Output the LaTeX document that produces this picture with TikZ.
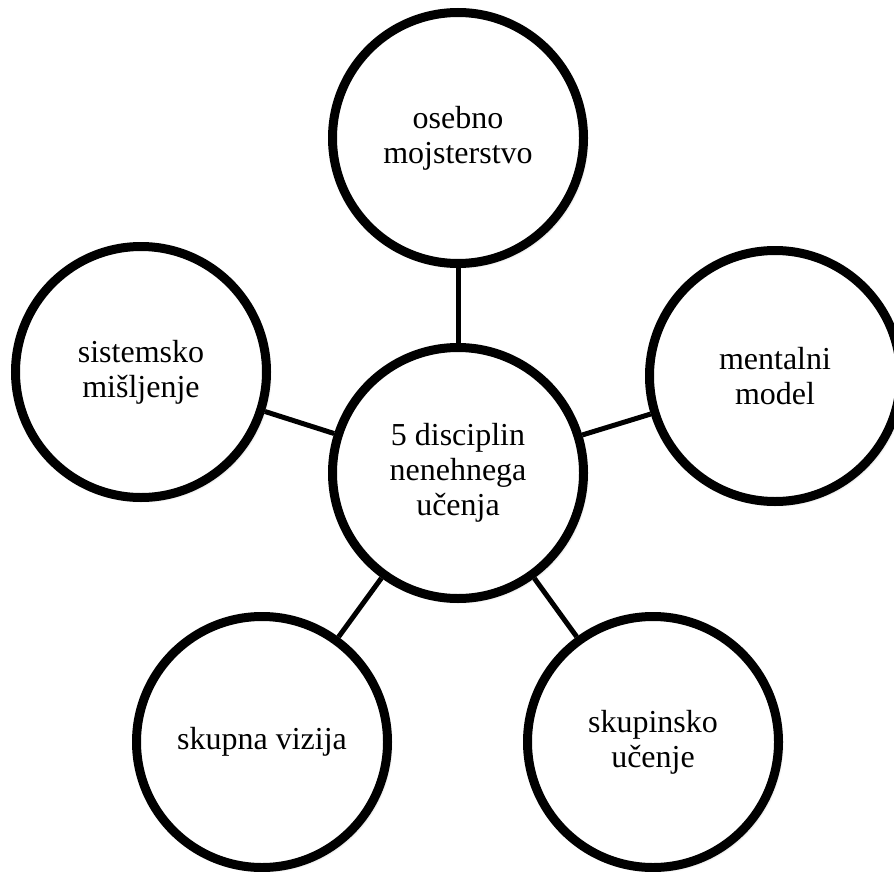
\documentclass[tikz,border=0pt]{standalone}
\usepackage{fontspec}
\setmainfont{Liberation Serif}
\usetikzlibrary{shadows.blur}
\begin{document}
\begin{tikzpicture}[x=1pt,y=1pt,
  disc/.style={circle, draw=black, line width=9pt, fill=white, minimum size=251pt, inner sep=0pt,
    align=center, font=\fontsize{32}{35}\selectfont,
    blur shadow={shadow xshift=2.5pt, shadow yshift=-2.5pt, shadow blur radius=3pt, shadow opacity=35}},
  link/.style={line width=5pt, draw=black}]
\useasboundingbox (0,0) rectangle (894,-872);
\begin{scope}
\clip (0,0) rectangle (894,-872);
\node[disc] (c) at (458,-473) {5 disciplin\\nenehnega\\učenja};
\node[disc] (t) at (458,-138) {osebno\\mojsterstvo};
\node[disc] (l) at (141,-372) {sistemsko\\mišljenje};
\node[disc] (r) at (775,-376) {mentalni\\model};
\node[disc] (bl) at (262,-742) {skupna vizija};
\node[disc] (br) at (653,-742) {skupinsko\\učenje};
\draw[link] (c) -- (t);
\draw[link] (c) -- (l);
\draw[link] (c) -- (r);
\draw[link] (c) -- (bl);
\draw[link] (c) -- (br);
\end{scope}
\end{tikzpicture}
\end{document}
